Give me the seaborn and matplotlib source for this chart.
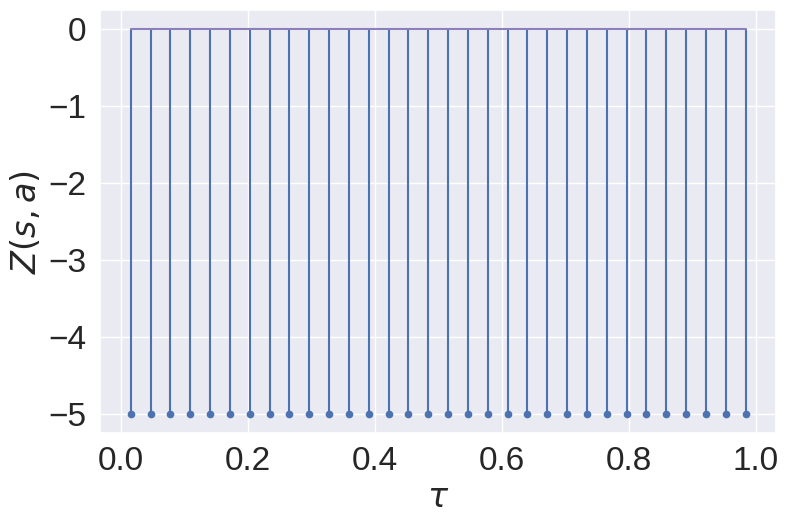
import matplotlib
matplotlib.use('Agg')
import matplotlib.pyplot as plt
import seaborn as sns

# 分位点位置 tau 和对应的 Z(s, a) 值
taus = [0.015625, 0.046875, 0.078125, 0.109375, 0.140625, 0.171875, 0.203125, 0.234375,
        0.265625, 0.296875, 0.328125, 0.359375, 0.390625, 0.421875, 0.453125, 0.484375,
        0.515625, 0.546875, 0.578125, 0.609375, 0.640625, 0.671875, 0.703125, 0.734375,
        0.765625, 0.796875, 0.828125, 0.859375, 0.890625, 0.921875, 0.953125, 0.984375]
z_values = [-5.0] * 32

sns.set_theme(style='darkgrid')
plt.rcParams['font.family'] = ['Liberation Sans', 'DejaVu Sans']
plt.rcParams['mathtext.fontset'] = 'dejavusans'

fig, ax = plt.subplots(figsize=(7.93, 5.29), dpi=100)
markerline, stemlines, baseline = ax.stem(taus, z_values)
plt.setp(markerline, markersize=4.5, color='C0')
plt.setp(stemlines, linewidth=1.5, color='C0')
plt.setp(baseline, linewidth=1.5, color='#8c7fbb')

ax.set_xlabel(r'$\tau$', fontsize=24)
ax.set_ylabel(r'$Z(s, a)$', fontsize=24)
ax.tick_params(labelsize=24)
ax.set_xticks([0.0, 0.2, 0.4, 0.6, 0.8, 1.0])
ax.set_yticks([0, -1, -2, -3, -4, -5])

fig.subplots_adjust(left=0.126, right=0.979, top=0.981, bottom=0.181)
fig.savefig('out.png', dpi=100)
